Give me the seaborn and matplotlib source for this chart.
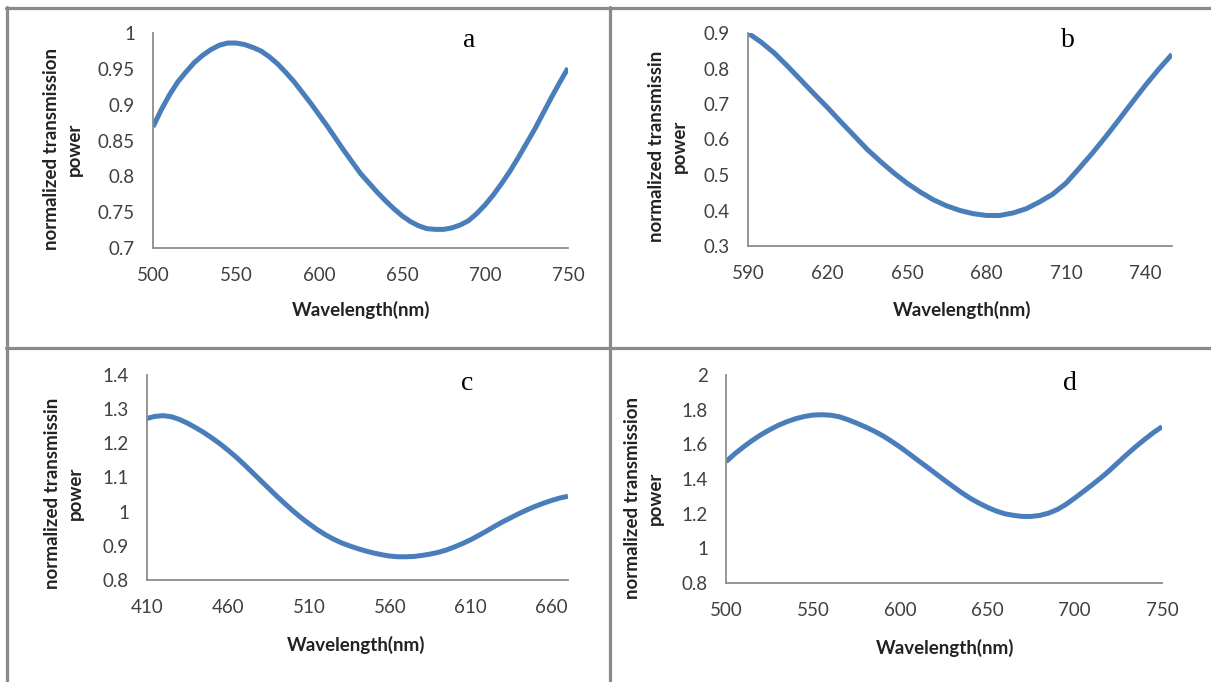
import matplotlib
matplotlib.use("Agg")
import matplotlib.pyplot as plt
from matplotlib.lines import Line2D
from matplotlib.ticker import FuncFormatter, FixedLocator
import seaborn as sns
import pandas as pd

# ---------------- data (every 5 nm) ----------------
wl_a = list(range(500, 755, 5))
tp_a = [0.869, 0.893, 0.914, 0.932, 0.946, 0.959, 0.969, 0.977, 0.983, 0.986,
        0.986, 0.984, 0.980, 0.975, 0.967, 0.957, 0.945, 0.932, 0.917, 0.902,
        0.886, 0.870, 0.853, 0.836, 0.820, 0.804, 0.791, 0.778, 0.766, 0.755,
        0.745, 0.737, 0.731, 0.727, 0.726, 0.726, 0.728, 0.732, 0.738, 0.748,
        0.760, 0.774, 0.790, 0.807, 0.826, 0.846, 0.866, 0.888, 0.910, 0.931,
        0.951]

wl_b = list(range(590, 755, 5))
tp_b = [0.900, 0.874, 0.843, 0.806, 0.767, 0.728, 0.690, 0.650, 0.611, 0.572,
        0.538, 0.506, 0.477, 0.452, 0.430, 0.413, 0.400, 0.391, 0.386, 0.386,
        0.393, 0.405, 0.424, 0.446, 0.477, 0.519, 0.562, 0.608, 0.656, 0.705,
        0.753, 0.798, 0.840]

wl_c = list(range(410, 675, 5))
tp_c = [1.273, 1.279, 1.281, 1.278, 1.270, 1.259, 1.246, 1.232, 1.216, 1.199,
        1.180, 1.160, 1.138, 1.115, 1.092, 1.069, 1.046, 1.024, 1.003, 0.983,
        0.965, 0.948, 0.933, 0.920, 0.909, 0.900, 0.892, 0.885, 0.879, 0.874,
        0.870, 0.868, 0.868, 0.869, 0.872, 0.876, 0.881, 0.888, 0.897, 0.907,
        0.918, 0.931, 0.944, 0.958, 0.971, 0.983, 0.995, 1.006, 1.016, 1.025,
        1.033, 1.040, 1.045]

wl_d = list(range(500, 755, 5))
tp_d = [1.500, 1.545, 1.585, 1.622, 1.655, 1.684, 1.710, 1.731, 1.748, 1.761,
        1.769, 1.771, 1.768, 1.759, 1.742, 1.722, 1.700, 1.676, 1.649, 1.617,
        1.583, 1.546, 1.508, 1.471, 1.433, 1.395, 1.358, 1.322, 1.289, 1.261,
        1.236, 1.215, 1.199, 1.190, 1.184, 1.184, 1.190, 1.203, 1.224, 1.254,
        1.290, 1.328, 1.367, 1.407, 1.450, 1.497, 1.543, 1.587, 1.628, 1.667,
        1.702]

xticks_a = [500, 550, 600, 650, 700, 750]
yticks_a = [0.7, 0.75, 0.8, 0.85, 0.9, 0.95, 1.0]
xticks_b = [590, 620, 650, 680, 710, 740]
yticks_b = [0.3, 0.4, 0.5, 0.6, 0.7, 0.8, 0.9]
xticks_c = [410, 460, 510, 560, 610, 660]
yticks_c = [0.8, 0.9, 1.0, 1.1, 1.2, 1.3, 1.4]
xticks_d = [500, 550, 600, 650, 700, 750]
yticks_d = [0.8, 1.0, 1.2, 1.4, 1.6, 1.8, 2.0]

letters = ["a", "b", "c", "d"]
xlabel = "Wavelength(nm)"
ylabels = ["normalized transmission\npower",
           "normalized transmissin\npower",
           "normalized transmissin\npower",
           "normalized transmission\npower"]

# ---------------- style ----------------
sns.set_theme(style="white")
plt.rcParams["font.family"] = ["Lato", "DejaVu Sans"]

W, H = 1211, 682
fig = plt.figure(figsize=(W / 100, H / 100), dpi=100)
fig.patch.set_facecolor("white")

LINE = "#4a7ebb"
AXC = "#8c8c8c"
TXT = "#404040"
LBL = "#222222"


def fx(px):
    return px / W


def fy(py):
    return 1 - py / H


panels = [
    dict(wl=wl_a, tp=tp_a, box=(153, 33, 568, 248), xlim=(500, 750), ylim=(0.7, 1.0),
         xt=xticks_a, yt=yticks_a, xl=(361, 310), yl=(63, 149), let=(469, 47)),
    dict(wl=wl_b, tp=tp_b, box=(748, 33, 1172, 246), xlim=(590, 750), ylim=(0.3, 0.9),
         xt=xticks_b, yt=yticks_b, xl=(962, 310), yl=(668, 146), let=(1068, 47)),
    dict(wl=wl_c, tp=tp_c, box=(147, 375, 568, 580), xlim=(410, 670), ylim=(0.8, 1.4),
         xt=xticks_c, yt=yticks_c, xl=(356, 645), yl=(64, 493), let=(467, 390)),
    dict(wl=wl_d, tp=tp_d, box=(726, 375, 1162, 583), xlim=(500, 750), ylim=(0.8, 2.0),
         xt=xticks_d, yt=yticks_d, xl=(945, 648), yl=(644, 498), let=(1070, 390)),
]

fmt = FuncFormatter(lambda v, p: f"{round(v, 3):g}")

for i, p in enumerate(panels):
    l, t, r, b = p["box"]
    ax = fig.add_axes([fx(l), fy(b), (r - l) / W, (b - t) / H])
    df = pd.DataFrame({"wl": p["wl"], "tp": p["tp"]})
    sns.lineplot(data=df, x="wl", y="tp", ax=ax, color=LINE, linewidth=3.6,
                 solid_joinstyle="round", solid_capstyle="butt")
    ax.set_xlim(*p["xlim"])
    ax.set_ylim(*p["ylim"])
    ax.xaxis.set_major_locator(FixedLocator(p["xt"]))
    ax.yaxis.set_major_locator(FixedLocator(p["yt"]))
    ax.yaxis.set_major_formatter(fmt)
    ax.xaxis.set_major_formatter(fmt)
    for s in ["top", "right"]:
        ax.spines[s].set_visible(False)
    for s in ["left", "bottom"]:
        ax.spines[s].set_color(AXC)
        ax.spines[s].set_linewidth(1.3)
    ax.tick_params(axis="both", length=0, labelsize=13.5, labelcolor=TXT)
    ax.tick_params(axis="y", pad=13)
    ax.tick_params(axis="x", pad=14)
    ax.set_facecolor("none")

    ax.set_xlabel(xlabel, fontsize=13.5, fontweight="bold", color=LBL)
    ax.xaxis.set_label_coords(fx(p["xl"][0]), fy(p["xl"][1]), transform=fig.transFigure)
    ax.xaxis.label.set_va("center")

    ax.set_ylabel(ylabels[i], fontsize=13.5, fontweight="bold", color=LBL,
                  linespacing=1.45, multialignment="center")
    ax.yaxis.set_label_coords(fx(p["yl"][0]), fy(p["yl"][1]), transform=fig.transFigure)
    ax.yaxis.label.set_va("center")
    ax.yaxis.label.set_ha("center")

    fig.text(fx(p["let"][0]), fy(p["let"][1]), letters[i], ha="center", va="baseline",
             fontsize=20, family=["Liberation Serif", "DejaVu Serif"], color="black")

# table-like borders
BC = "#8a8a8a"
BW = 2.3
fig.add_artist(Line2D([fx(6), fx(W)], [fy(8), fy(8)], transform=fig.transFigure, color=BC, lw=BW))
fig.add_artist(Line2D([fx(6), fx(W)], [fy(348), fy(348)], transform=fig.transFigure, color=BC, lw=BW))
fig.add_artist(Line2D([fx(7), fx(7)], [fy(7), fy(H)], transform=fig.transFigure, color=BC, lw=BW))
fig.add_artist(Line2D([fx(610), fx(610)], [fy(7), fy(H)], transform=fig.transFigure, color=BC, lw=BW))

fig.savefig("out.png", dpi=100, facecolor="white")
